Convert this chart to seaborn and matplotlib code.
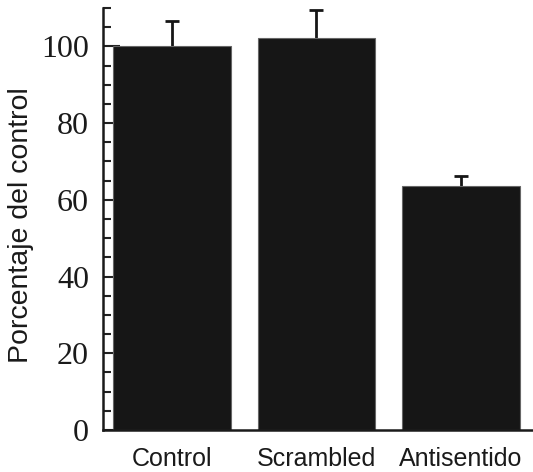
import numpy as np
import pandas as pd
import matplotlib
matplotlib.use('Agg')
import matplotlib.pyplot as plt
from matplotlib.ticker import MultipleLocator
import seaborn as sns

# datos
grupos = ['Control', 'Scrambled', 'Antisentido']
porcentaje = [100.0, 102.3, 63.6]
error_sup = [6.7, 7.1, 2.5]

sns.set_style('white')
plt.rcParams['font.family'] = ['Liberation Sans', 'DejaVu Sans']

df = pd.DataFrame({'grupo': grupos, 'valor': porcentaje})

fig = plt.figure(figsize=(5.33, 4.72), dpi=100)
ax = fig.add_axes([0.193, 0.089, 0.807, 0.894])

sns.barplot(data=df, x='grupo', y='valor', color='#161616', width=0.815,
            edgecolor='#666666', linewidth=0.8, saturation=1, errorbar=None,
            zorder=2, ax=ax)

# barras de error: la mitad inferior queda tapada por la barra
xs = [p.get_x() + p.get_width() / 2 for p in ax.patches]
ax.errorbar(xs, porcentaje, yerr=error_sup, fmt='none',
            ecolor='#161616', elinewidth=2, capsize=5, capthick=2, zorder=1)

ax.set_ylim(0, 110)
ax.set_xlim(-0.48, 2.5)
ax.yaxis.set_major_locator(MultipleLocator(20))
ax.yaxis.set_minor_locator(MultipleLocator(5))
ax.tick_params(axis='y', which='major', direction='in', length=12, width=1.5,
               color='#222222', left=True, pad=10)
ax.tick_params(axis='y', which='minor', direction='in', length=6, width=1.5,
               color='#222222', left=True)
ax.tick_params(axis='x', length=0, pad=12)

for lab in ax.get_yticklabels():
    lab.set_family('Liberation Serif')
    lab.set_fontsize(23)
    lab.set_color('#1a1a1a')
for lab in ax.get_xticklabels():
    lab.set_fontsize(18)
    lab.set_color('#1a1a1a')

ax.set_xlabel('')
ax.set_ylabel('Porcentaje del control', fontsize=20.5, color='#1a1a1a')
ax.yaxis.set_label_coords(-0.16, 0.485)

for s in ['top', 'right']:
    ax.spines[s].set_visible(False)
for s in ['left', 'bottom']:
    ax.spines[s].set_color('#1a1a1a')
    ax.spines[s].set_linewidth(1.8)

fig.savefig('out.png', dpi=100)
